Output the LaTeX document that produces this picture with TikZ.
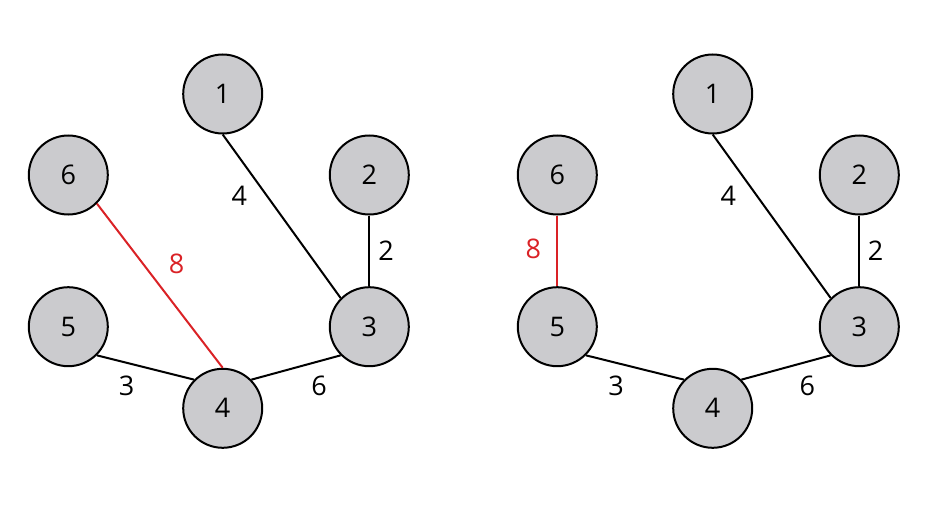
\documentclass[tikz,border=0pt]{standalone}
\usepackage{fontspec}
\setmainfont{Open Sans}
\definecolor{nodegray}{RGB}{203,203,206}
\definecolor{edgered}{RGB}{218,34,38}
\begin{document}
\begin{tikzpicture}[x=1pt,y=-1pt,
  vtx/.style={circle,draw=black,line width=2pt,fill=nodegray,minimum size=79pt,inner sep=0pt,font=\fontsize{27}{30}\selectfont},
  edge/.style={line width=2pt,black},
  redge/.style={line width=2pt,edgered},
  wlab/.style={font=\fontsize{27}{30}\selectfont,inner sep=0pt},
  rlab/.style={wlab,text=edgered}]
\useasboundingbox (0,0) rectangle (936,516);
% left graph
\node[vtx] (L1) at (222.7,94) {1};
\node[vtx] (L6) at (68.3,175) {6};
\node[vtx] (L2) at (369.3,175) {2};
\node[vtx] (L5) at (68.3,326.7) {5};
\node[vtx] (L3) at (369.3,326.7) {3};
\node[vtx] (L4) at (222.7,408.3) {4};
\draw[edge] (L1.south) -- (L3.north west);
\draw[edge] (L2.south) -- (L3.north);
\draw[redge] (L6.south east) -- (L4.north);
\draw[edge] (L5.south east) -- (L4.north west);
\draw[edge] (L4.north east) -- (L3.south west);
\node[wlab] (lw4) at (239.3,195.5) {4};
\node[wlab] (lw2) at (386,250.5) {2};
\node[rlab] (lw8) at (176.7,264) {8};
\node[wlab] (lw3) at (126.7,385.5) {3};
\node[wlab] (lw6) at (319,385.5) {6};
% right graph
\node[vtx] (R1) at (712.7,94) {1};
\node[vtx] (R6) at (557.3,175) {6};
\node[vtx] (R2) at (859.3,175) {2};
\node[vtx] (R5) at (557.3,326.7) {5};
\node[vtx] (R3) at (859.3,326.7) {3};
\node[vtx] (R4) at (712.7,408.3) {4};
\draw[edge] (R1.south) -- (R3.north west);
\draw[edge] (R2.south) -- (R3.north);
\draw[redge] (R6.south) -- (R5.north);
\draw[edge] (R5.south east) -- (R4.north west);
\draw[edge] (R4.north east) -- (R3.south west);
\node[wlab] (rw4) at (728.3,195.5) {4};
\node[wlab] (rw2) at (875.7,250.5) {2};
\node[rlab] (rw8) at (533.3,249) {8};
\node[wlab] (rw3) at (616,385.5) {3};
\node[wlab] (rw6) at (807.3,385.5) {6};
\end{tikzpicture}
\end{document}
